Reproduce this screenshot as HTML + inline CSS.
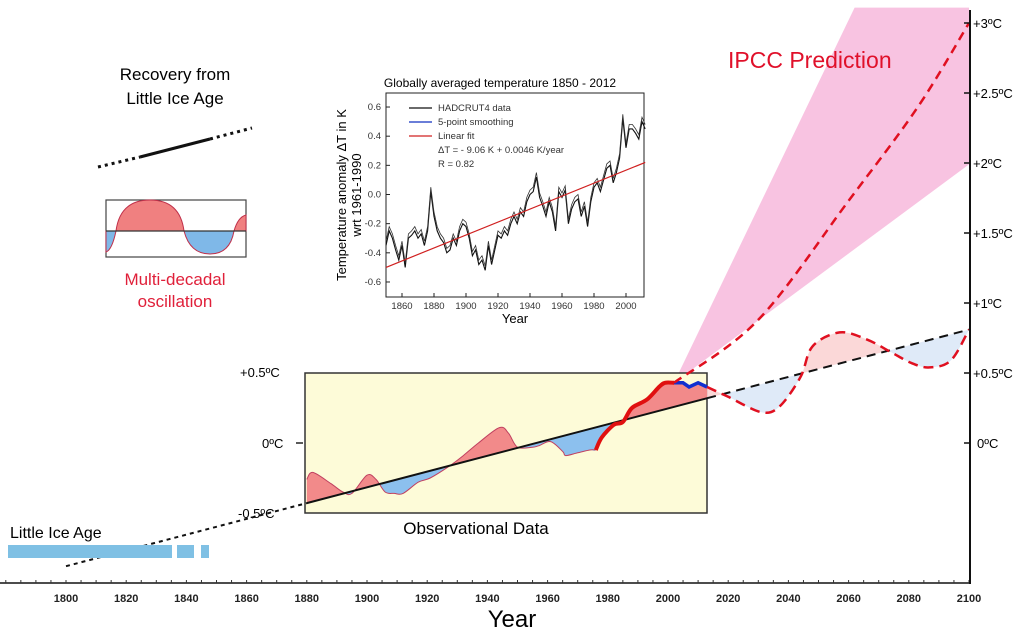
<!DOCTYPE html>
<html><head><meta charset="utf-8"><style>
html,body{margin:0;padding:0;background:#fff;}
svg{display:block;font-family:"Liberation Sans",Arial,sans-serif;}
</style></head><body>
<svg id="c" width="1024" height="634" viewBox="0 0 1024 634">
<defs>
<clipPath id="above"><polygon id="clipA" points=""/></clipPath>
<clipPath id="below"><polygon id="clipB" points=""/></clipPath>
</defs>
<polygon id="fan" fill="#f7b8dc" opacity="0.85"/>
<text x="728" y="68" fill="#e0102a" font-size="23">IPCC Prediction</text>
<rect x="305" y="373" width="402" height="140" fill="#fdfbd8" stroke="#333" stroke-width="1.5"/>
<g id="fills"></g>
<g id="lines"></g>
<text x="240" y="377" font-size="13">+0.5ºC</text>
<text x="262" y="448" font-size="13">0ºC</text>
<text x="238" y="518" font-size="13">-0.5ºC</text>
<line x1="296" y1="443" x2="303" y2="443" stroke="#222" stroke-width="1.5"/>
<text x="476" y="534" font-size="17" text-anchor="middle">Observational Data</text>
<text x="10" y="538" font-size="16">Little Ice Age</text>
<rect x="8" y="545" width="164" height="13" fill="#7fc0e4"/>
<rect x="177" y="545" width="17" height="13" fill="#7fc0e4"/>
<rect x="201" y="545" width="8" height="13" fill="#7fc0e4"/>
<text x="175" y="80" font-size="17" text-anchor="middle">Recovery from</text>
<text x="175" y="104" font-size="17" text-anchor="middle">Little  Ice Age</text>
<line x1="98" y1="167" x2="140" y2="157" stroke="#111" stroke-width="3" stroke-dasharray="3,4"/>
<line x1="140" y1="157" x2="210" y2="139" stroke="#111" stroke-width="3"/>
<line x1="210" y1="139" x2="252" y2="128" stroke="#111" stroke-width="3" stroke-dasharray="3,4"/>
<g>
<rect x="106" y="200" width="140" height="57" fill="#fff" stroke="#444" stroke-width="1.2"/>
<path d="M106,231 L106,252 Q112,250 116,231 Z" fill="#7fb8e8" stroke="#c0304a"/>
<path d="M116,231 Q120,200 150,200 Q180,200 184,231 Z" fill="#f08080" stroke="#c0304a"/>
<path d="M184,231 Q190,254 210,254 Q230,254 234,231 Z" fill="#7fb8e8" stroke="#c0304a"/>
<path d="M234,231 Q238,217 246,215 L246,231 Z" fill="#f08080" stroke="#c0304a"/>
<line x1="106" y1="231" x2="246" y2="231" stroke="#333" stroke-width="1.2"/>
</g>
<text x="175" y="285" font-size="17" fill="#e0203a" text-anchor="middle">Multi-decadal</text>
<text x="175" y="307" font-size="17" fill="#e0203a" text-anchor="middle">oscillation</text>
<g id="inset"></g>
<g id="axes"></g>
</svg>
<script>
const trendYears=[1800,2100];
const trendTemps=[-0.88,0.81];
const obsYears=[1880,1882,1888,1892,1895,1900,1903,1906,1909,1912,1917,1921,1927,1932,1937,1944,1947,1950,1955,1957,1961,1965,1966,1970,1974,1976];
const obsTemps=[-0.26,-0.21,-0.29,-0.35,-0.36,-0.23,-0.26,-0.35,-0.36,-0.36,-0.28,-0.25,-0.17,-0.09,0,0.11,0.07,-0.03,-0.03,-0.02,0.01,-0.06,-0.09,-0.07,-0.05,-0.05];
const recentYears=[1976,1978,1982,1985,1988,1993,1997,1999,2002];
const recentTemps=[-0.05,0.04,0.13,0.15,0.25,0.31,0.40,0.43,0.43];
const pauseYears=[2002,2005,2007,2010,2013];
const pauseTemps=[0.43,0.43,0.40,0.43,0.40];
const futureYears=[2013,2020,2031,2037,2044,2048,2057,2066,2074,2081,2087,2094,2100];
const futureTemps=[0.40,0.33,0.22,0.26,0.47,0.69,0.79,0.74,0.65,0.57,0.54,0.59,0.81];
const ipccYears=[2002,2030,2060,2083,2100];
const ipccTemps=[0.43,0.88,1.73,2.4,3.0];
const fanYears=[2002,2062,2100,2100];
const fanTemps=[0.43,3.11,3.11,1.99];
const xTickYears=[1800,1820,1840,1860,1880,1900,1920,1940,1960,1980,2000,2020,2040,2060,2080,2100];
const yTickTemps=[0,0.5,1,1.5,2,2.5,3];
const yTickLabels=["0ºC","+0.5ºC","+1ºC","+1.5ºC","+2ºC","+2.5ºC","+3ºC"];
const inYears=[1850,1852,1854,1856,1858,1860,1862,1864,1866,1868,1870,1872,1874,1876,1878,1880,1882,1884,1886,1888,1890,1892,1894,1896,1898,1900,1902,1904,1906,1908,1910,1912,1914,1916,1918,1920,1922,1924,1926,1928,1930,1932,1934,1936,1938,1940,1942,1944,1946,1948,1950,1952,1954,1956,1958,1960,1962,1964,1966,1968,1970,1972,1974,1976,1978,1980,1982,1984,1986,1988,1990,1992,1994,1996,1998,2000,2002,2004,2006,2008,2010,2012];
const inTemps=[-0.35,-0.25,-0.3,-0.38,-0.45,-0.35,-0.5,-0.3,-0.28,-0.25,-0.3,-0.27,-0.35,-0.25,0.02,-0.15,-0.25,-0.3,-0.33,-0.4,-0.38,-0.3,-0.35,-0.25,-0.2,-0.22,-0.3,-0.42,-0.38,-0.48,-0.45,-0.52,-0.35,-0.48,-0.38,-0.28,-0.3,-0.25,-0.28,-0.2,-0.15,-0.2,-0.12,-0.15,-0.05,0,0.02,0.12,-0.02,-0.08,-0.15,-0.05,-0.12,-0.25,0.02,-0.02,0.03,-0.2,-0.1,-0.05,-0.03,-0.15,-0.08,-0.22,-0.05,0.05,0.08,0.02,0.1,0.18,0.2,0.08,0.15,0.25,0.52,0.32,0.45,0.45,0.42,0.38,0.5,0.45];
const inFitYears=[1850,2012];
const inFitTemps=[-0.5,0.22];
const inYTicks=[-0.6,-0.4,-0.2,0,0.2,0.4,0.6];
const inYLabels=["-0.6","-0.4","-0.2","0.0","0.2","0.4","0.6"];
const inXTicks=[1860,1880,1900,1920,1940,1960,1980,2000];

const NS="http://www.w3.org/2000/svg";
const X=y=>66+(y-1800)*3.01;
const Y=t=>443-t*140;
const trend=y=>trendTemps[0]+(trendTemps[1]-trendTemps[0])*(y-trendYears[0])/(trendYears[1]-trendYears[0]);
function mk(parent,tag,attrs){const e=document.createElementNS(NS,tag);for(const k in attrs)e.setAttribute(k,attrs[k]);parent.appendChild(e);return e;}
function pts(ys,ts,fx,fy){return ys.map((y,i)=>fx(y).toFixed(1)+","+fy(ts[i]).toFixed(1)).join(" ");}
function smooth(ys,ts,fx,fy,move){
  const p=ys.map((y,i)=>[fx(y),fy(ts[i])]);
  let d=(move?"M":"L")+p[0][0].toFixed(1)+","+p[0][1].toFixed(1);
  for(let i=0;i<p.length-1;i++){
    const p0=p[i-1]||p[i],p1=p[i],p2=p[i+1],p3=p[i+2]||p[i+1];
    const c1=[p1[0]+(p2[0]-p0[0])/6,p1[1]+(p2[1]-p0[1])/6];
    const c2=[p2[0]-(p3[0]-p1[0])/6,p2[1]-(p3[1]-p1[1])/6];
    d+=" C"+c1[0].toFixed(1)+","+c1[1].toFixed(1)+" "+c2[0].toFixed(1)+","+c2[1].toFixed(1)+" "+p2[0].toFixed(1)+","+p2[1].toFixed(1);
  }
  return d;
}

document.getElementById('fan').setAttribute('points',pts(fanYears,fanTemps,X,Y));
const tA=[];
for(let y=1870;y<=2110;y+=10){tA.push(X(y)+","+Y(trend(y)));}
document.getElementById('clipA').setAttribute('points',tA.join(" ")+" "+X(2110)+",0 "+X(1870)+",0");
document.getElementById('clipB').setAttribute('points',tA.join(" ")+" "+X(2110)+",634 "+X(1870)+",634");

const fills=document.getElementById('fills');
const allY=obsYears.concat(recentYears.slice(1),pauseYears.slice(1));
const allT=obsTemps.concat(recentTemps.slice(1),pauseTemps.slice(1));
function area(ys,ts,col,clip,name){
  let d="M"+X(ys[0])+","+Y(trend(ys[0]))+" "+smooth(ys,ts,X,Y,false);
  d+=" L"+X(ys[ys.length-1])+","+Y(trend(ys[ys.length-1]))+" Z";
  const p=mk(fills,'path',{d:d,fill:col,'clip-path':'url(#'+clip+')'});
  
  
}
area(allY,allT,'#f28a8a','above','obs-warm-fill');
area(allY,allT,'#8cc0ee','below','obs-cool-fill');
area(futureYears,futureTemps,'#fbd8d8','above','future-warm-fill');
area(futureYears,futureTemps,'#dfeaf8','below','future-cool-fill');

const lines=document.getElementById('lines');
let l;
l=mk(lines,'path',{d:smooth(obsYears,obsTemps,X,Y,true),fill:'none',stroke:'#c04060','stroke-width':1});

l=mk(lines,'line',{x1:X(1880),y1:Y(trend(1880)),x2:X(2013),y2:Y(trend(2013)),stroke:'#111','stroke-width':2});

l=mk(lines,'line',{x1:X(2013),y1:Y(trend(2013)),x2:X(2100),y2:Y(trend(2100)),stroke:'#111','stroke-width':2,'stroke-dasharray':'9,6'});

l=mk(lines,'line',{x1:X(1800),y1:Y(trend(1800)),x2:X(1880),y2:Y(trend(1880)),stroke:'#111','stroke-width':2,'stroke-dasharray':'4,4'});

l=mk(lines,'path',{d:smooth(recentYears,recentTemps,X,Y,true),fill:'none',stroke:'#e01010','stroke-width':4,'stroke-linejoin':'round'});

l=mk(lines,'polyline',{points:pts(pauseYears,pauseTemps,X,Y),fill:'none',stroke:'#1030d0','stroke-width':3.5});

l=mk(lines,'path',{d:smooth(futureYears,futureTemps,X,Y,true),fill:'none',stroke:'#e01020','stroke-width':2.5,'stroke-dasharray':'10,6'});

l=mk(lines,'path',{d:smooth(ipccYears,ipccTemps,X,Y,true),fill:'none',stroke:'#e01020','stroke-width':2.5,'stroke-dasharray':'9,6'});


const ax=document.getElementById('axes');
l=mk(ax,'line',{x1:0,y1:583,x2:971,y2:583,stroke:'#111','stroke-width':1.5});

for(let y=1780;y<=2100;y+=5){mk(ax,'line',{x1:X(y),y1:580,x2:X(y),y2:583,stroke:'#333','stroke-width':1});}
xTickYears.forEach(y=>{
  const t=mk(ax,'text',{x:X(y),y:602,'font-size':11,'font-weight':'bold','text-anchor':'middle',fill:'#222'});
  t.textContent=y;
  
});
const yt=mk(ax,'text',{x:512,y:627,'font-size':24,'text-anchor':'middle'});yt.textContent="Year";

l=mk(ax,'line',{x1:970,y1:10,x2:970,y2:584,stroke:'#111','stroke-width':2});

yTickTemps.forEach((v,i)=>{
  mk(ax,'line',{x1:964,y1:Y(v),x2:970,y2:Y(v),stroke:'#111','stroke-width':1.5});
  const t=mk(ax,'text',{x:yTickLabels[i]==="0ºC"?977:973,y:Y(v)+5,'font-size':13});
  t.textContent=yTickLabels[i];
  
});

const ins=document.getElementById('inset');
const IX=y=>386+(y-1850)*1.6;
const IY=t=>194.5-t*145.8;
const tt=mk(ins,'text',{x:500,y:87,'font-size':12,'text-anchor':'middle'});tt.textContent="Globally averaged temperature 1850 - 2012";

mk(ins,'rect',{x:386,y:93,width:258,height:204,fill:'#fff',stroke:'#222','stroke-width':1});
inYTicks.forEach((v,i)=>{
  mk(ins,'line',{x1:386,y1:IY(v),x2:390,y2:IY(v),stroke:'#222'});
  const t=mk(ins,'text',{x:381,y:IY(v)+3,'font-size':9.5,'text-anchor':'end',fill:'#333'});t.textContent=inYLabels[i];
  
});
inXTicks.forEach(v=>{
  mk(ins,'line',{x1:IX(v),y1:297,x2:IX(v),y2:293,stroke:'#222'});
  const t=mk(ins,'text',{x:IX(v),y:309,'font-size':9.5,'text-anchor':'middle',fill:'#333'});t.textContent=v;
  
});
const ixt=mk(ins,'text',{x:515,y:323,'font-size':13,'text-anchor':'middle'});ixt.textContent="Year";

const iyt=mk(ins,'text',{x:0,y:0,'font-size':13,'text-anchor':'middle',transform:'translate(346,195) rotate(-90)'});iyt.textContent="Temperature anomaly ΔT in K";

const iyt2=mk(ins,'text',{x:0,y:0,'font-size':13,'text-anchor':'middle',transform:'translate(361,195) rotate(-90)'});iyt2.textContent="wrt 1961-1990";

l=mk(ins,'polyline',{points:pts(inYears,inTemps,IX,IY),fill:'none',stroke:'#111','stroke-width':1.1});

l=mk(ins,'polyline',{points:pts(inYears,inTemps.map(v=>v+0.03),IX,IY),fill:'none',stroke:'#333','stroke-width':0.8});

l=mk(ins,'line',{x1:IX(inFitYears[0]),y1:IY(inFitTemps[0]),x2:IX(inFitYears[1]),y2:IY(inFitTemps[1]),stroke:'#d02020','stroke-width':1.2});

const leg=[["HADCRUT4 data","#111"],["5-point smoothing","#1030c0"],["Linear fit","#d02020"]];
leg.forEach((e,i)=>{
  mk(ins,'line',{x1:409,y1:108+i*14,x2:432,y2:108+i*14,stroke:e[1],'stroke-width':1.3});
  const t=mk(ins,'text',{x:438,y:111+i*14,'font-size':9.5,fill:'#333'});t.textContent=e[0];
  
});
const f1=mk(ins,'text',{x:438,y:153,'font-size':9.5,fill:'#333'});f1.textContent="ΔT = - 9.06 K + 0.0046 K/year";

const f2=mk(ins,'text',{x:438,y:167,'font-size':9.5,fill:'#333'});f2.textContent="R = 0.82";

</script>
</body></html>
